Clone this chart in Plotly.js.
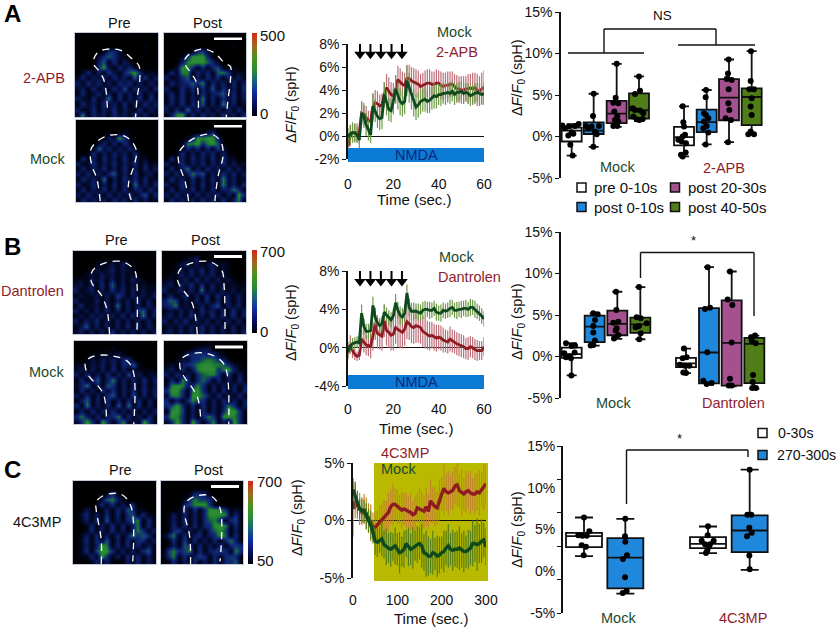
<!DOCTYPE html>
<html><head><meta charset="utf-8">
<script src="https://cdn.plot.ly/plotly-3.0.1.min.js"></script>
<style>html,body{margin:0;padding:0;background:#fff}#c{width:837px;height:628px}</style>
</head><body><div id="c"></div>
<script>
// ---------- DATA: time courses (one value per second, panels A and B; every 5 s, panel C)
const timeA = [0,1,2,3,4,5,6,7,8,9,10,11,12,13,14,15,16,17,18,19,20,21,22,23,24,25,26,27,28,29,30,31,32,33,34,35,36,37,38,39,40,41,42,43,44,45,46,47,48,49,50,51,52,53,54,55,56,57,58,59,60];
const aMock = [-0.1,0.2,0.3,0.25,0.1,-0.35,2.0,1.7,1.0,0.5,0.1,2.6,2.2,1.7,1.5,1.6,3.6,2.9,2.3,2.2,3.0,4.1,3.5,3.0,2.8,3.0,4.8,4.2,3.5,2.9,2.5,2.7,3.0,3.1,3.2,3.0,3.1,3.3,3.5,3.4,3.6,3.6,3.7,3.7,3.8,3.7,3.9,3.6,3.8,3.8,3.9,3.7,3.8,3.7,3.5,3.6,3.7,3.8,3.7,3.6,3.7];
const aMockErr = [0.8,0.8,0.9,0.8,0.7,0.7,1.0,1.0,1.0,0.9,0.7,1.1,1.0,1.0,1.0,1.0,1.1,1.1,1.0,1.0,1.1,1.2,1.2,1.2,1.1,1.1,1.3,1.3,1.2,1.2,1.1,1.1,1.1,1.0,1.1,1.0,1.1,1.0,1.1,1.0,0.9,1.0,0.9,1.0,0.9,0.9,0.9,0.9,0.8,0.9,0.8,0.9,0.8,0.9,0.9,0.8,0.9,0.8,0.9,0.8,0.9];
const aApb = [-0.9,0.0,0.3,0.3,0.3,0.2,2.0,1.9,1.6,1.3,1.3,2.5,2.9,2.8,2.6,2.7,3.6,4.2,3.9,3.6,3.5,4.0,4.9,4.7,4.5,4.4,5.0,5.0,4.8,4.7,4.6,4.5,4.3,4.4,4.5,4.6,4.6,4.5,4.5,4.6,4.6,4.4,4.3,4.4,4.4,4.5,4.5,4.3,4.1,4.1,4.0,4.0,4.1,4.1,4.2,4.1,4.2,4.0,3.9,4.1,4.2];
const aApbErr = [0.9,0.9,0.7,0.8,0.8,0.9,1.0,1.0,1.0,0.9,0.9,1.2,1.1,1.1,1.0,1.0,1.1,1.2,1.2,1.1,1.1,1.2,1.2,1.2,1.1,1.1,1.2,1.2,1.2,1.2,1.2,1.2,1.1,1.1,1.2,1.2,1.2,1.1,1.1,1.2,1.1,1.2,1.2,1.1,1.2,1.1,1.1,1.1,1.2,1.1,1.2,1.2,1.1,1.3,1.2,1.4,1.3,1.4,1.3,1.4,1.5];
const bMock = [-0.5,0.2,0.4,0.5,0.6,0.5,3.6,2.2,1.7,1.7,1.8,4.4,3.2,2.6,2.3,2.5,3.7,3.4,3.1,2.9,3.3,4.7,3.9,3.4,3.2,3.6,5.7,4.2,3.8,3.8,3.8,3.7,3.6,3.9,4.0,4.0,3.9,3.9,4.1,3.7,3.6,3.6,3.9,3.8,3.9,4.1,4.2,3.9,3.9,4.0,4.0,4.1,4.1,4.0,4.2,4.2,4.0,3.8,3.6,3.3,3.0];
const bMockErr = [0.5,0.5,0.6,0.6,0.6,0.7,0.9,0.8,0.8,0.8,0.8,0.9,0.9,0.8,0.8,0.8,0.8,0.8,0.8,0.8,0.8,0.9,0.9,0.9,0.9,0.9,0.9,0.9,0.9,0.9,0.8,0.9,0.9,0.9,0.9,0.8,0.9,0.8,0.8,0.9,0.8,0.9,0.8,0.8,0.8,0.9,0.8,0.8,0.9,0.8,0.9,0.8,0.9,0.8,0.9,0.8,0.9,0.8,0.8,0.8,0.8];
const bDan = [-0.3,0.3,-0.3,-0.7,-0.9,-0.8,0.9,0.6,0.3,0.2,0.2,1.2,2.5,1.5,1.3,1.2,2.8,1.8,1.6,1.3,1.4,2.1,1.9,1.7,1.6,1.9,2.7,2.5,2.2,2.1,2.3,2.2,2.1,1.7,1.5,1.3,1.2,1.3,1.1,1.0,1.1,1.0,0.8,0.7,0.6,0.9,0.7,0.6,0.4,0.3,0.2,0.1,-0.1,-0.1,0.1,0.0,-0.2,-0.3,-0.3,-0.3,0.1];
const bDanErr = [0.9,1.0,0.8,0.6,0.5,0.5,1.0,1.1,1.1,1.1,1.3,1.5,1.7,1.6,1.5,1.5,1.7,1.6,1.6,1.6,1.7,1.7,1.8,1.7,1.7,1.7,1.8,1.7,1.7,1.7,1.8,1.7,1.7,1.6,1.6,1.5,1.5,1.4,1.4,1.4,1.3,1.3,1.3,1.2,1.2,1.3,1.2,1.2,1.2,1.2,1.2,1.2,1.1,1.2,1.1,1.1,1.1,1.1,1.0,1.0,1.0];
const timeC = [0,5,10,15,20,25,30,35,40,45,50,55,60,65,70,75,80,85,90,95,100,105,110,115,120,125,130,135,140,145,150,155,160,165,170,175,180,185,190,195,200,205,210,215,220,225,230,235,240,245,250,255,260,265,270,275,280,285,290,295,300];
const cMock = [2.7,2.2,1.6,1.0,0.9,0.8,0.4,0.0,-0.4,-1.0,-1.8,-1.9,-1.7,-1.6,-2.1,-2.3,-2.4,-2.5,-2.3,-2.2,-2.5,-2.8,-2.7,-2.5,-2.0,-2.3,-2.5,-2.4,-2.2,-2.1,-2.0,-2.2,-2.8,-2.9,-3.1,-3.1,-2.8,-2.9,-3.1,-3.0,-2.8,-2.7,-2.4,-2.2,-2.5,-2.6,-2.5,-2.5,-2.4,-2.6,-2.7,-2.7,-2.5,-2.4,-2.0,-2.0,-2.1,-2.0,-1.8,-1.7,-2.3];
const cMockErr = [1.0,1.2,1.0,0.9,1.1,1.0,1.1,1.0,1.2,1.0,1.2,1.3,1.1,1.5,1.2,1.6,1.3,1.5,1.2,1.6,1.4,1.8,1.3,1.6,1.2,1.7,1.4,1.8,1.3,1.6,1.4,1.9,1.6,2.0,1.7,1.5,1.9,1.4,1.8,1.6,1.4,1.8,1.5,1.9,1.4,1.8,1.5,1.6,1.9,1.5,1.8,1.4,1.7,1.5,2.0,1.6,2.3,1.7,1.9,1.5,1.6];
const cMp = [1.0,1.7,1.3,1.0,0.7,1.0,0.6,0.2,-0.2,-0.5,-0.6,-0.4,-0.1,0.0,0.2,0.4,0.7,1.2,1.4,1.4,1.2,1.0,0.9,1.0,0.9,0.8,0.7,0.5,0.6,1.1,1.0,0.9,0.8,1.2,0.8,1.7,1.4,1.2,1.1,1.8,2.3,2.8,2.5,2.4,2.5,2.6,3.0,3.1,2.6,2.4,2.3,2.5,2.6,2.4,2.3,2.3,2.5,2.4,2.7,2.9,3.2];
const cMpErr = [2.4,1.5,1.2,1.4,1.1,1.3,1.4,1.3,1.6,1.2,1.4,1.3,1.5,1.4,1.6,1.3,1.7,1.5,1.8,1.4,1.5,1.3,1.6,1.4,1.5,1.3,1.6,1.2,1.5,1.3,1.8,1.6,1.4,1.7,1.5,1.9,1.5,1.7,1.4,1.8,1.5,2.3,1.6,1.9,1.5,1.7,1.6,1.9,1.5,2.0,1.4,1.8,1.5,1.9,1.4,1.7,1.6,2.0,1.5,2.0,1.7];

// ---------- DATA: stimulation times and arrow extents (in % on each chart's axis)
const stimTimes = [5.3,9.9,14.5,19.2,23.8];
const stimA = [8.1,7.1];
const stimB = [8.2,6.9];

// ---------- DATA: box statistics
const aPre  = {q1:[-0.6,-1.08], med:[0.7,-0.08], q3:[1.08,1.16], lo:[-2.3,-2.4], hi:[1.5,3.64]};
const aP0   = {q1:[0.3,0.52],  med:[0.7,1.72],  q3:[1.7,3.24],  lo:[-1.25,-0.96], hi:[5.15,5.6]};
const aP20  = {q1:[1.6,1.96],  med:[2.76,4.68], q3:[4.3,6.92],  lo:[1.15,-0.68], hi:[8.76,9.28]};
const aP40  = {q1:[2.16,1.36], med:[3.16,4.76], q3:[5.2,5.8],   lo:[1.9,0.24],   hi:[7.25,10.28]};
const bPre  = {q1:[-0.16,-1.28], med:[0.28,-0.84], q3:[1.08,-0.16], lo:[-2.28,-2], hi:[1.6,0.96]};
const bP0   = {q1:[1.72,-3.24], med:[3.6,0.48], q3:[4.92,5.84], lo:[1.32,-3.4], hi:[5.2,10.76]};
const bP20  = {q1:[2.56,-3.52], med:[3.92,1.64], q3:[5.52,6.76], lo:[2.12,-3.6], hi:[7.8,10.24]};
const bP40  = {q1:[2.84,-3.2], med:[3.88,1.52], q3:[4.68,2.24], lo:[2.08,-3.88], hi:[8.36,2.52]};
const cEarly= {q1:[2.88,2.76], med:[4.2,3.28], q3:[4.6,4.08], lo:[1.8,2.16], hi:[6.44,5.36]};
const cLate = {q1:[-2.04,2.28], med:[1.64,4.88], q3:[3.96,6.68], lo:[-2.68,0.16], hi:[6.28,12.16]};

// ---------- DATA: individual measurements over each box
const aPts = [
 [1.32,1.0,0.12,0.52,1.28,1.52,1.2,-1.0,-2.28,0.32],
 [5.16,2.48,1.28,1.0,1.2,0.6,1.28,0.28,-1.24],
 [8.76,4.68,4.08,4.0,3.0,2.4,2.0,1.8,1.28,1.28],
 [7.24,5.52,5.12,3.4,3.2,3.12,2.8,2.4,2.08,2.0,2.12],
 [3.64,1.72,1.2,-0.4,-0.6,0,0.2,-0.8,-1.92,-2.4,-2.2],
 [5.6,4.72,2.8,2.6,2.2,1.8,1.28,1.0,0.48,-0.96],
 [9.28,7.6,6.92,6.8,5.68,4.0,3.2,2.2,2.0,-0.68],
 [10.28,6.68,5.68,5.68,4.6,3.6,2.6,0.6,0.28,0.28]];
const bPts = [
 [1.6,1.28,1.32,0.4,0,0.48,-0.08,-0.2,-2.28],
 [5.2,5.08,4.4,3.68,2.88,1.92,1.32,1.4],
 [7.8,5.6,4.2,4.08,3.4,3.12,2.6,2.16],
 [8.36,4.72,4.6,4.0,3.68,3.52,2.8,2.08],
 [0.96,-0.2,-0.08,-1,-1.12,-1.12,-1.92,-2],
 [10.76,5.72,5.88,0.52,-2.92,-3.32,-3.2],
 [10.24,6.88,6.2,1.68,-2.68,-3.48,-3.48],
 [2.52,2.32,1.92,1.6,-2.24,-3.08,-3.8,-3.8]];
const cPts = [
 [6.44,4.8,4.32,4.24,4.24,3.12,2.92,1.92],
 [6.28,4.2,3.52,1.92,1.48,-0.72,-2.36,-2.6],
 [5.4,4.32,3.64,3.64,3.24,3.24,2.92,2.52,2.2],
 [12.16,6.76,6.76,5.2,4.6,4.2,1.88,0.24]];

// ---------- DATA: texts
const seriesNames = {mock:'Mock', apb:'2-APB', dan:'Dantrolen', mp:'4C3MP'};
const legendA = ['pre 0-10s','post 0-10s','post 20-30s','post 40-50s'];
const legendC = ['0-30s','270-300s'];
const yTitle = 'Δ<i>F</i>/<i>F</i><sub>0</sub> (spH)';

// ---------- DATA: micrographs, coarse intensity maps (0 = black .. 9 = green)
const maps = {
aPre:["0000000000000000","0000000000000000","0000000000000100","0000015520000000","0000257521000000","0000471514100000","0001593152520000","0251416315795121","1514251524172514","4152514153514142","2415141527152415","1512514152415141","4215138151425152","1524152415141524","4125142514215142","2815241524152412"],
aPost:["0000000000000000","0000000000000000","0000000000000100","0000015620000000","0001599951000000","0004899975100000","0029851515710100","1528815251785121","4125714152515241","1524575815241514","4115251527152415","2515141524571514","1525142815152514","2415152714182412","4151825141415151","1489151524152415"],
aMPre:["0000000000000000","0000000000000000","0000000002000000","0000014295100000","0000251515200000","0001825142510000","0015141524151000","0514152415141200","4125142514251412","1514251415141514","4151415714151241","1524180415251512","4125141514182415","1514251415144152","4152415142514715","1524141524151412"],
aMPost:["0000000000000000","0000000000000000","0000000125000000","0000149899400000","0001889589710000","0001525151620000","0015141525141000","0514152415151200","4125142514251412","1514814152415141","4151485714152514","1524151415182412","4125141514182415","1514251415144851","4152415142514195","1524141524151481"],
bPre:["0000000000000000","0000000010000000","0000121314110000","0001312413210000","0013142313121000","1213241413142100","2314151714131211","4124141524141312","1312314164142314","4121413141415141","1512314181414142","4131415141415714","1314241415151814","4142514141414141","1371414141514142","2414141514141413"],
bPost:["0000000000000000","0000124000000000","0012413124121000","0013142514121000","0114241424131000","1212415141413100","2414251514131211","4124141814141312","1412514151524141","4761314151414141","4581312414714241","1314141524141514","2414151415151514","4142514141414141","1314141524141413","2414141514141414"],
bMPre:["0000000000000000","0000000100000000","0001112131000000","0013142425510000","1213241415471000","2314141514131110","4151415141714122","1514714814151514","2481417514141413","1514152514251514","4151415714171414","1471415141515141","5181415171815141","1415142514151414","5841514581514151","2595195158141951"],
bMPost:["0000000010000000","0000012330000000","0001455545210000","0013255787541000","1214568998875210","2415148999589411","4151415788515141","1518515751514151","2898458514141414","5995189514151415","2885199741514151","5141586514151414","5695151514148514","1996141514159951","5985141585199851","2595195158141951"],
cPre:["0000000000000000","0000000000000000","0000001510000000","0000027841000000","0000151514150000","0031014152751100","0251415151571511","0141517141568151","0015141515148151","0015141514148514","0141514151485751","0151527141515514","0141498151515141","0151699514141571","0115195141515141","0001514101415141"],
cPost:["0000000000000000","0000000000000000","0000015541000000","0000158665100000","0000568995100000","0001515159985121","0141514159998151","0141514157851561","0151515155998151","0156141415796141","1581514514597151","0151615141515841","0141751514151565","1685681514565185","1581514651515651","0151415141515571"]
};
const outlines = {
aPre:[[39,37,34,28,23,23,29,42,56,68,77,78,75,73],[89,66,54,44,38,30,22,19,21,30,39,56,76,100]],
aPost:[[42,40,34,26,25,34,48,62,74,81,81,78,76],[89,60,49,38,32,23,19,24,36,40,56,80,100]],
aMPre:[[30,26,20,18,24,40,58,68,74,72,64,68],[99,72,56,38,28,19,19,26,38,52,80,99]],
aMPost:[[30,26,18,18,28,44,60,70,72,66,62],[99,76,52,40,28,19,18,28,44,68,99]],
bPre:[[44,41,34,22,24,40,60,74,77,77],[100,71,53,37,23,14,13,23,39,100]],
bPost:[[42,36,19,21,37,57,71,74,75],[100,63,37,23,14,13,23,43,100]],
bMPre:[[39,35,16,14,25,47,65,72,72],[91,63,39,25,18,18,25,39,100]],
bMPost:[[44,40,20,20,30,52,70,76,78],[91,67,35,23,16,15,25,39,100]],
cPre:[[34,34,28,28,38,58,70,72],[100,71,35,25,17,16,31,97]],
cPost:[[36,35,28,31,43,61,72,72],[100,67,35,25,18,18,33,97]]
};
const scaleLevels = [0,1,2,3,4,5,6,7,8,9,10,11,12];

// ---------- LAYOUT constants
const W=837,H=628;
const FONT='"Liberation Sans", Arial, sans-serif';
const GREEN_T='#1c4a2c', RED_T='#8e1c2c';
const C_WHITE='#ffffff',C_BLUE='#2088dc',C_PURPLE='#a5518f',C_GREEN='#4f7d18';
const layout={width:W,height:H,margin:{l:0,r:0,t:0,b:0},showlegend:false,paper_bgcolor:'#fff',plot_bgcolor:'rgba(0,0,0,0)',
  font:{family:FONT,size:13,color:'#111'},hovermode:false,shapes:[],annotations:[]};
const traces=[];
const px=x=>x/W, py=y=>1-y/H;
let axN=0;
function newAxes(x0,x1,y0,y1,xo,yo){
  axN++; const s=axN===1?'':axN;
  layout['xaxis'+s]=Object.assign({domain:[px(x0),px(x1)],anchor:'y'+s,fixedrange:true,showgrid:false,zeroline:false},xo);
  layout['yaxis'+s]=Object.assign({domain:[py(y1),py(y0)],anchor:'x'+s,fixedrange:true,showgrid:false,zeroline:false},yo);
  return {x:'x'+s,y:'y'+s};
}
function txt(t,x,y,o={}){layout.annotations.push(Object.assign({text:t,x:px(x),y:py(y),xref:'paper',yref:'paper',showarrow:false,xanchor:'center',yanchor:'middle',font:{size:o.size||14.5,color:o.color||'#111',family:FONT}},o.a||{}));}
function rect(x0,y0,x1,y1,fill,line,lw,layer){layout.shapes.push({type:'rect',xref:'paper',yref:'paper',x0:px(x0),x1:px(x1),y0:py(y0),y1:py(y1),fillcolor:fill,line:{color:line||fill,width:lw||0},layer:layer||'above'});}
function seg(pts,lw){for(let i=0;i<pts.length-1;i++)layout.shapes.push({type:'line',xref:'paper',yref:'paper',x0:px(pts[i][0]),y0:py(pts[i][1]),x1:px(pts[i+1][0]),y1:py(pts[i+1][1]),line:{color:'#111',width:lw||1.4}});}

// ---------- Micrographs
const panels=[
 ['aPre',75,158,33,117],['aPost',164,246,33,117],['aMPre',75.5,158,120,202],['aMPost',164,246,120,202],
 ['bPre',73,156,251,334],['bPost',162,246,251,334],['bMPre',74,157,341,424],['bMPost',164,247,341,424],
 ['cPre',73,156,481,564],['cPost',161,243,481,564]];
const microScale=[[0,'#000000'],[0.11,'#010414'],[0.22,'#030a2c'],[0.44,'#0a1a5c'],[0.56,'#0f2674'],[0.67,'#123c70'],[0.78,'#165c42'],[0.89,'#1f7c34'],[1,'#2c8c34']];
panels.forEach(([k,x0,x1,y0,y1])=>{
  const bare={showticklabels:false,ticks:'',showline:true,mirror:true,linecolor:'#c3cad8',linewidth:1};
  const a=newAxes(x0,x1,y0,y1,Object.assign({range:[0,100]},bare),Object.assign({range:[100,0]},bare));
  traces.push({type:'heatmap',z:maps[k].map(r=>[...r].map(Number)),x0:3.125,dx:6.25,y0:3.125,dy:6.25,zmin:0,zmax:9,zsmooth:'best',colorscale:microScale,showscale:false,hoverinfo:'skip',xaxis:a.x,yaxis:a.y});
  traces.push({type:'scatter',mode:'lines',x:outlines[k][0],y:outlines[k][1],line:{color:'#fff',width:1.3,dash:'7px,6px',shape:'spline'},hoverinfo:'skip',xaxis:a.x,yaxis:a.y});
});
[[214,242,37.5,40],[214,242,125,127.5],[214,242,255,258],[215,243,345.5,348.5],[211,239,485,488]].forEach(b=>rect(b[0],b[2],b[1],b[3],'#fff'));
// colour scale bars
const cbScale=[[0,'#000000'],[0.12,'#050a50'],[0.3,'#1030a0'],[0.42,'#155f80'],[0.58,'#2a8f30'],[0.72,'#4f9020'],[0.85,'#a06a20'],[1,'#d0281c']];
[[252,257,33,116],[252,257,250,333],[248,253,481,564]].forEach(([x0,x1,y0,y1])=>{
  const a=newAxes(x0,x1,y0,y1,{visible:false,range:[0,1]},{visible:false,range:[0,scaleLevels.length-1]});
  traces.push({type:'heatmap',z:scaleLevels.map(v=>[v,v]),x:[0,1],y:scaleLevels,zmin:0,zmax:12,zsmooth:'best',colorscale:cbScale,showscale:false,hoverinfo:'skip',xaxis:a.x,yaxis:a.y});
});

// ---------- Time courses
function lineChart(cfg){
  const a=newAxes(cfg.x0,cfg.x1,cfg.y0,cfg.y1,
    {range:cfg.xr,tickvals:cfg.xt,ticktext:cfg.xt.map(String),ticks:'outside',ticklen:cfg.gap,tickcolor:'rgba(0,0,0,0)',tickfont:{size:14},showline:false},
    {range:cfg.yr,tickvals:cfg.yt,ticktext:cfg.yt.map(v=>v+'%'),ticks:'outside',ticklen:4,tickwidth:1.4,tickcolor:'#111',tickfont:{size:14},showline:true,linecolor:'#111',linewidth:1.5,zeroline:true,zerolinecolor:'#111',zerolinewidth:1.3});
  cfg.series.forEach(s=>traces.push({type:'scatter',mode:'lines',name:s.n,x:cfg.t,y:s.y,line:{color:s.c,width:cfg.lw},
     error_y:{type:'data',array:s.e,visible:true,color:s.ec,thickness:1.2,width:0},hoverinfo:'skip',xaxis:a.x,yaxis:a.y,cliponaxis:false}));
  return a;
}
function stimArrows(a,ext){
  stimTimes.forEach(t=>traces.push({type:'scatter',mode:'lines+markers',x:[t,t],y:ext,line:{color:'#000',width:2},marker:{symbol:'triangle-down',size:[1,10],opacity:1,color:'#000',line:{width:0}},cliponaxis:false,hoverinfo:'skip',xaxis:a.x,yaxis:a.y}));
}
const G='#0f4a1e',R='#8e1c22';
const la=lineChart({x0:348,x1:484,y0:44,y1:159,xr:[0,60],yr:[-2,8],xt:[0,20,40,60],yt:[-2,0,2,4,6,8],gap:12,lw:2.8,t:timeA,
  series:[{n:seriesNames.apb,y:aApb,e:aApbErr,c:R,ec:'#bd6f7a'},{n:seriesNames.mock,y:aMock,e:aMockErr,c:G,ec:'#6f9a48'}]});
const lb=lineChart({x0:348,x1:484,y0:271,y1:386,xr:[0,60],yr:[-4,8],xt:[0,20,40,60],yt:[-4,0,4,8],gap:10,lw:2.8,t:timeA,
  series:[{n:seriesNames.dan,y:bDan,e:bDanErr,c:R,ec:'#bd6f7a'},{n:seriesNames.mock,y:bMock,e:bMockErr,c:G,ec:'#6f9a48'}]});
rect(374,463,488,581,'#b9b900',null,0,'below');
const lc=lineChart({x0:353,x1:486,y0:463,y1:578,xr:[0,300],yr:[-5,5],xt:[0,100,200,300],yt:[-5,0,5],gap:9,lw:3.4,t:timeC,
  series:[{n:seriesNames.mp,y:cMp,e:cMpErr,c:R,ec:'#c4852c'},{n:seriesNames.mock,y:cMock,e:cMockErr,c:G,ec:'#557f18'}]});
stimArrows(la,stimA);stimArrows(lb,stimB);

rect(348,148,484,162,'#0c7bd6');
rect(348,375,484,389,'#0c7bd6');
txt('NMDA',416,155,{size:14.5,color:'#0a2a7a'});
txt('NMDA',416,382,{size:14.5,color:'#0a2a7a'});
txt(seriesNames.mock,454,32,{color:GREEN_T});
txt(seriesNames.apb,457,52,{color:RED_T});
txt(seriesNames.mock,456,257,{color:GREEN_T});
txt(seriesNames.dan,469,277,{color:RED_T});
txt(seriesNames.mp,405,453,{color:RED_T});
txt(seriesNames.mock,398,469,{color:GREEN_T});
txt('Time (sec.)',414,200,{size:15});
txt('Time (sec.)',416,428,{size:15});
txt('Time (sec.)',431,618,{size:15});
function yT(x,y){layout.annotations.push({text:yTitle,x:px(x),y:py(y),xref:'paper',yref:'paper',showarrow:false,textangle:-90,xanchor:'center',yanchor:'middle',font:{size:14.5,color:'#111',family:FONT}});}
yT(292,105);yT(292,323);yT(298,518);

// ---------- Box charts. One x unit = a third of a pixel.
function boxChart(cfg){
  const ya=Object.assign({range:[-5,15],ticks:'outside',ticklen:4,tickwidth:1.4,tickcolor:'#111',showline:true,linecolor:'#111',linewidth:1.5,tickfont:{size:14}},cfg.yo);
  const xStart=(cfg.ax-500)*3;
  const a=newAxes(cfg.ax,836,cfg.y0,cfg.y1,{visible:false,range:[xStart,(836-500)*3]},ya);
  cfg.boxes.forEach(b=>{
    traces.push({type:'box',x:b.pos,q1:b.s.q1,median:b.s.med,q3:b.s.q3,lowerfence:b.s.lo,upperfence:b.s.hi,width:cfg.w,whiskerwidth:cfg.ww,fillcolor:b.c,line:{color:'#111',width:1.8},boxpoints:false,hoverinfo:'skip',xaxis:a.x,yaxis:a.y});
  });
  cfg.pts.forEach((v,i)=>{
    traces.push({type:'scatter',mode:'markers',x:v.map((_,j)=>cfg.centers[i]+cfg.off[i][j]),y:v,marker:{color:'#000',size:6},cliponaxis:false,hoverinfo:'skip',xaxis:a.x,yaxis:a.y});
  });
  return a;
}
boxChart({ax:561,y0:12,y1:178,w:60,ww:0.5,
  yo:{tickvals:[-5,0,5,10,15],ticktext:['-5%','0%','5%','10%','15%']},
  boxes:[{pos:[215,552],s:aPre,c:C_WHITE},{pos:[281,620],s:aP0,c:C_BLUE},{pos:[350,687],s:aP20,c:C_PURPLE},{pos:[417,755],s:aP40,c:C_GREEN}],
  centers:[215,281,350,417,552,620,687,755],pts:aPts,
  off:[[-28,-20,-10,0,10,21,-8,-4,3,5],[0,-2,-23,-16,-6,4,16,9,-1],[0,-3,-10,5,-7,2,-5,5,-10,2],[0,3,-12,-19,-12,3,13,-17,-7,1,11],[-4,-2,0,-17,-7,-4,3,6,5,-4,-9],[-2,-3,-8,-2,5,-8,0,-10,5,-3],[-1,-3,-7,8,-1,-2,1,-10,6,-3],[-2,-3,-7,7,0,-3,0,-3,-10,7]]});
boxChart({ax:561,y0:232,y1:398,w:60,ww:0.5,
  yo:{tickvals:[-5,0,5,10,15],ticktext:['-5%','0%','5%','10%','15%']},
  boxes:[{pos:[215,558],s:bPre,c:C_WHITE},{pos:[284,627],s:bP0,c:C_BLUE},{pos:[352,695],s:bP20,c:C_PURPLE},{pos:[421,763],s:bP40,c:C_GREEN}],
  centers:[215,284,352,421,558,627,695,763],pts:bPts,
  off:[[-17,0,10,-22,-5,9,-17,-2,-1],[-4,9,1,-4,-4,1,-12,-4],[-4,-3,3,-12,-2,-5,3,-10],[-4,-11,1,19,-4,-14,1,-3],[-6,-10,2,-18,-3,10,-8,0],[-4,-12,3,-5,-17,-7,8],[-5,-12,2,0,-5,-9,0],[2,-10,-8,4,-4,-5,-6,5]]});
const cb=boxChart({ax:563,y0:446,y1:613,w:108,ww:0.5,
  yo:{tickmode:'linear',tick0:-5,dtick:4,showticklabels:false},
  boxes:[{pos:[252,624],s:cEarly,c:C_WHITE},{pos:[376,749],s:cLate,c:C_BLUE}],
  centers:[252,376,624,749],pts:cPts,
  off:[[0,16,-17,-5,8,-7,6,-1],[0,-1,0,5,-7,-1,4,-8],[0,-1,-19,17,-9,6,3,-2,-6],[0,-7,5,-1,6,-8,-1,0]]});
// panel C: the printed labels do not sit on the ticks, so they get their own axis
axN++;
layout['yaxis'+axN]={domain:layout[cb.y.replace('y','yaxis')].domain,overlaying:cb.y,anchor:cb.x,side:'left',range:[-5,15],fixedrange:true,showgrid:false,zeroline:false,showline:false,tickvals:[-5,0,5,10,15],ticktext:['-5%','0%','5%','10%','15%'],ticks:'outside',ticklen:4,tickcolor:'rgba(0,0,0,0)',tickfont:{size:14}};
traces.push({type:'scatter',mode:'markers',x:[],y:[],xaxis:cb.x,yaxis:'y'+axN,hoverinfo:'skip'});

yT(518,78);yT(518,322);yT(518,530);
// brackets
seg([[568,53],[644,53]]);seg([[678,45],[755,45]]);seg([[604,53],[604,29],[716,29],[716,45]]);
txt('NS',662,15,{size:13.5});
seg([[640.5,278],[640.5,252.5],[754,252.5],[754,316]]);
txt('*',693,240,{size:13});
seg([[626.5,504],[626.5,450],[748,450],[748,457]]);
txt('*',679,438,{size:13});
txt(seriesNames.mock,617,167,{color:GREEN_T});txt(seriesNames.apb,724,168,{color:RED_T});
txt(seriesNames.mock,613,403,{color:GREEN_T});txt(seriesNames.dan,733,403,{color:RED_T});
txt(seriesNames.mock,618,618,{color:GREEN_T});txt(seriesNames.mp,743,618,{color:RED_T});
// legends
[[581.5,187.5,C_WHITE,legendA[0],592,15],[581.5,207,C_BLUE,legendA[1],592,15],[675,187.5,C_PURPLE,legendA[2],686,15],[675,207,C_GREEN,legendA[3],686,15],
 [762.5,433,C_WHITE,legendC[0],776,14.2],[762.5,455,C_BLUE,legendC[1],774.5,14.2]].forEach(([x,y,c,t,tx,fs])=>{
  rect(x-4.5,y-4.5,x+4.5,y+4.5,c,'#111',1.5);
  txt(t,tx,y,{size:fs,a:{xanchor:'left'}});
});
// row and panel labels
const bold=(t,x,y)=>txt('<b>'+t+'</b>',x,y,{size:24,color:'#000'});
bold('A',12,14);bold('B',12,246);bold('C',12,469);
[[119,23,207,23],[117,240,205,240],[120,470,208,470]].forEach(p=>{txt('Pre',p[0],p[1]);txt('Post',p[2],p[3]);});
txt(seriesNames.apb,67,78,{color:RED_T,a:{xanchor:'right'}});
txt(seriesNames.mock,67,159,{color:GREEN_T,a:{xanchor:'right'}});
txt(seriesNames.dan,66,291,{color:RED_T,a:{xanchor:'right'}});
txt(seriesNames.mock,66,372,{color:GREEN_T,a:{xanchor:'right'}});
txt(seriesNames.mp,37,522,{color:'#111'});
[[258,35,'500'],[258,113,'0'],[258,251,'700'],[258,331,'0'],[255,481,'700'],[255,560,'50']].forEach(l=>txt(l[2],l[0],l[1],{size:15,a:{xanchor:'left'}}));

Plotly.newPlot('c',traces,layout,{displayModeBar:false,responsive:false});
</script></body></html>
